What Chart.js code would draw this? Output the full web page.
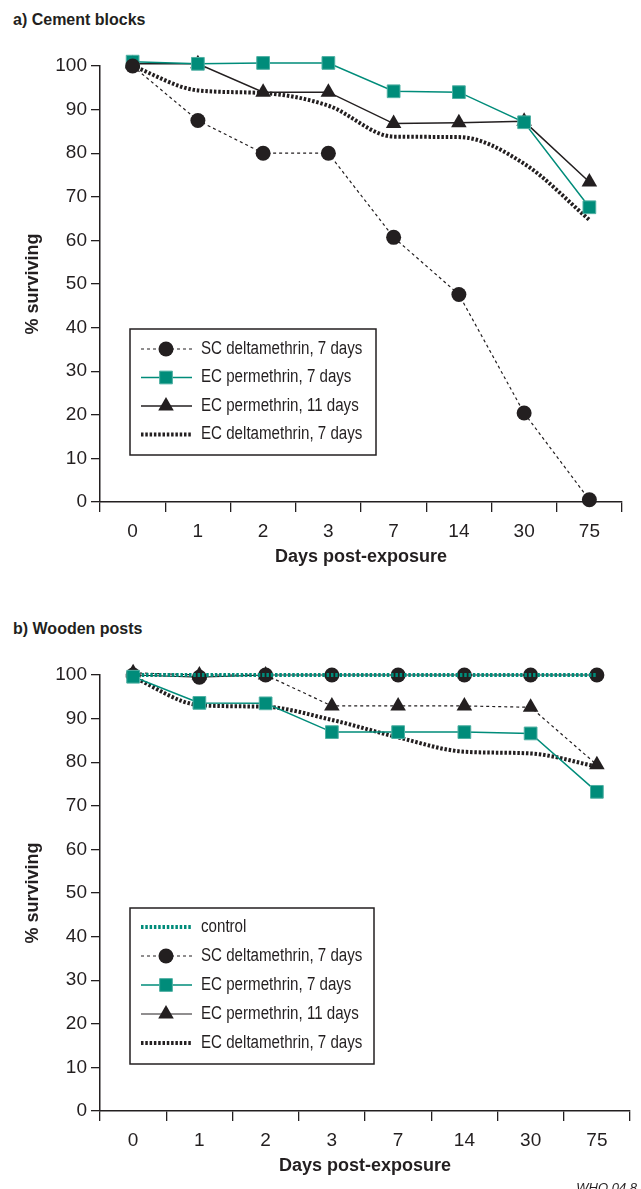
<!DOCTYPE html>
<html>
<head>
<meta charset="utf-8">
<script src="https://cdn.jsdelivr.net/npm/chart.js@4/dist/chart.umd.min.js"></script>
<style>
  body { margin: 0; background: #fff; width: 641px; height: 1189px; overflow: hidden; position: relative; }
  .panel { position: absolute; left: 0; }
  .ptitle { position: absolute; left: 13px; font: bold 16px "Liberation Sans", Arial, sans-serif; line-height: 16px; color: #231f20; }
  .credit { position: absolute; right: 4px; top: 1181px; font: italic 13px "Liberation Sans", Arial, sans-serif; line-height: 13px; color: #231f20; }
</style>
</head>
<body>
<div class="ptitle" style="top:11.5px">a) Cement blocks</div>
<canvas id="cement" class="panel" style="top:0" width="641" height="575"></canvas>
<div class="ptitle" style="top:620.5px">b) Wooden posts</div>
<canvas id="wooden" class="panel" style="top:609px" width="641" height="575"></canvas>
<div class="credit">WHO 04.8</div>
<script>
// days post-exposure (categories)
const dayLabels = ['0', '1', '2', '3', '7', '14', '30', '75'];

// a) cement blocks, % surviving
const cementScDelta7 = [100, 87.5, 80, 80, 60.7, 47.6, 20.4, 0.5];
const cementEcPerm7 = [101, 100.5, 100.7, 100.7, 94.2, 94, 87.1, 67.6];
const cementEcPerm11 = [100.5, 100.5, 94, 94, 86.8, 87, 87.3, 73.4];
const cementEcDelta7 = [100, 94.4, 93.8, 90.9, 83.8, 83.7, 77.6, 64.7];

// b) wooden posts, % surviving
const woodControl = [100, 100, 100, 100, 100, 100, 100, 100];
const woodScDelta7 = [100, 99.5, 100, 100, 100, 100, 100, 100];
const woodEcPerm7 = [99.6, 93.6, 93.5, 86.9, 86.9, 86.9, 86.6, 73.2];
const woodEcPerm11 = [100.5, 100, 100, 92.9, 92.9, 92.9, 92.6, 79.4];
const woodEcDelta7 = [99.5, 93.1, 92.7, 89.7, 85.7, 82.4, 82, 79];

const ink = '#231f20';
const teal = '#008c7a';
const tickFont = {family: '"Liberation Sans", Arial, sans-serif', size: 19};
const titleFont = {family: '"Liberation Sans", Arial, sans-serif', size: 18, weight: 'bold'};

// legend drawn as a framed box inside the plot, line sample with marker in the middle
const boxLegend = {
    id: 'boxLegend',
    afterDraw(chart, args, opts) {
        const ctx = chart.ctx;
        ctx.save();
        ctx.fillStyle = '#fff';
        ctx.fillRect(opts.left, opts.top, opts.width, opts.height);
        ctx.strokeStyle = ink;
        ctx.lineWidth = 1.5;
        ctx.strokeRect(opts.left, opts.top, opts.width, opts.height);

        chart.data.datasets.forEach((ds, i) => {
            const y = opts.top + opts.first + i * opts.gap;
            ctx.beginPath();
            ctx.setLineDash(ds.legendDash || ds.borderDash || []);
            ctx.lineWidth = ds.borderWidth;
            ctx.strokeStyle = ds.borderColor;
            ctx.moveTo(opts.left + 11, y);
            ctx.lineTo(opts.left + 62, y);
            ctx.stroke();
            ctx.setLineDash([]);
            if (ds.pointRadius > 0) {
                ctx.fillStyle = ds.pointBackgroundColor;
                ctx.strokeStyle = ds.pointBorderColor;
                ctx.lineWidth = ds.pointBorderWidth;
                Chart.helpers.drawPoint(ctx, {
                    pointStyle: ds.pointStyle,
                    radius: ds.pointRadius,
                    rotation: 0,
                    borderWidth: ds.pointBorderWidth
                }, opts.left + 36, y);
            }
            // the original type is a condensed face, squeeze the text a bit
            ctx.save();
            ctx.translate(opts.left + 71, y);
            ctx.scale(0.84, 1);
            ctx.fillStyle = ink;
            ctx.font = '18px "Liberation Sans", Arial, sans-serif';
            ctx.textBaseline = 'middle';
            ctx.textAlign = 'left';
            ctx.fillText(ds.label, 0, 0);
            ctx.restore();
        });
        ctx.restore();
    }
};

function circles(label, data, dash, order) {
    return {
        label: label, data: data, order: order, clip: false,
        borderColor: ink, borderWidth: 1.2, borderDash: dash,
        pointStyle: 'circle', pointRadius: 7.5, pointHoverRadius: 7.5,
        pointBackgroundColor: ink, pointBorderColor: ink, pointBorderWidth: 0
    };
}

function squares(label, data, order) {
    return {
        label: label, data: data, order: order, clip: false,
        borderColor: teal, borderWidth: 1.5,
        pointStyle: 'rect', pointRadius: 9, pointHoverRadius: 9,
        pointBackgroundColor: teal, pointBorderColor: '#4fb0a3', pointBorderWidth: 1
    };
}

function triangles(label, data, dash, order) {
    return {
        label: label, data: data, order: order, clip: false,
        borderColor: ink, borderWidth: dash.length ? 1.2 : 1.5, borderDash: dash,
        pointStyle: 'triangle', pointRadius: 9, pointHoverRadius: 9,
        pointBackgroundColor: ink, pointBorderColor: ink, pointBorderWidth: 0
    };
}

function dotted(label, data, color, order) {
    return {
        label: label, data: data, order: order, clip: false,
        borderColor: color, borderWidth: 4, borderDash: [2.5, 1.8],
        tension: 0.3, cubicInterpolationMode: 'monotone',
        pointRadius: 0, pointHoverRadius: 0
    };
}

function buildChart(canvasId, datasets, rightPad, legend) {
    return new Chart(document.getElementById(canvasId), {
        type: 'line',
        data: {labels: dayLabels, datasets: datasets},
        options: {
            responsive: false,
            animation: false,
            devicePixelRatio: 1,
            layout: {padding: {top: 66, right: rightPad, left: 0, bottom: 0}},
            plugins: {legend: {display: false}, tooltip: {enabled: false}, boxLegend: legend},
            scales: {
                x: {
                    type: 'category',
                    offset: true,
                    grid: {offset: true, drawOnChartArea: false, tickLength: 10, color: ink, lineWidth: 1.3},
                    border: {display: true, color: ink, width: 1.5},
                    ticks: {color: ink, font: tickFont, padding: 8, maxRotation: 0, autoSkip: false},
                    title: {display: true, text: 'Days post-exposure', color: ink, font: titleFont, padding: {top: 0, bottom: 7}},
                    afterFit(scale) { scale.height = 73; }
                },
                y: {
                    min: 0,
                    max: 100,
                    grid: {drawOnChartArea: false, tickLength: 9, color: ink, lineWidth: 1.3},
                    border: {display: true, color: ink, width: 1.5},
                    ticks: {stepSize: 10, color: ink, font: tickFont, padding: 4},
                    title: {display: true, text: '% surviving', color: ink, font: titleFont, padding: {top: 22, bottom: 0}},
                    afterFit(scale) { scale.width = 100; }
                }
            }
        },
        plugins: [boxLegend]
    });
}

buildChart('cement', [
    circles('SC deltamethrin, 7 days', cementScDelta7, [3, 3], 0),
    squares('EC permethrin, 7 days', cementEcPerm7, 1),
    triangles('EC permethrin, 11 days', cementEcPerm11, [], 2),
    dotted('EC deltamethrin, 7 days', cementEcDelta7, ink, 3)
], 19, {left: 130, top: 329, width: 246, height: 126, first: 20, gap: 28.5});

const woodSc = circles('SC deltamethrin, 7 days', woodScDelta7, [], 2);
woodSc.legendDash = [3, 3];
const woodPerm11 = triangles('EC permethrin, 11 days', woodEcPerm11, [3, 3], 3);
woodPerm11.legendDash = [];

buildChart('wooden', [
    dotted('control', woodControl, teal, 0),
    woodSc,
    squares('EC permethrin, 7 days', woodEcPerm7, 1),
    woodPerm11,
    dotted('EC deltamethrin, 7 days', woodEcDelta7, ink, 4)
], 11, {left: 130, top: 299, width: 244, height: 156, first: 19, gap: 29});
</script>
</body>
</html>
